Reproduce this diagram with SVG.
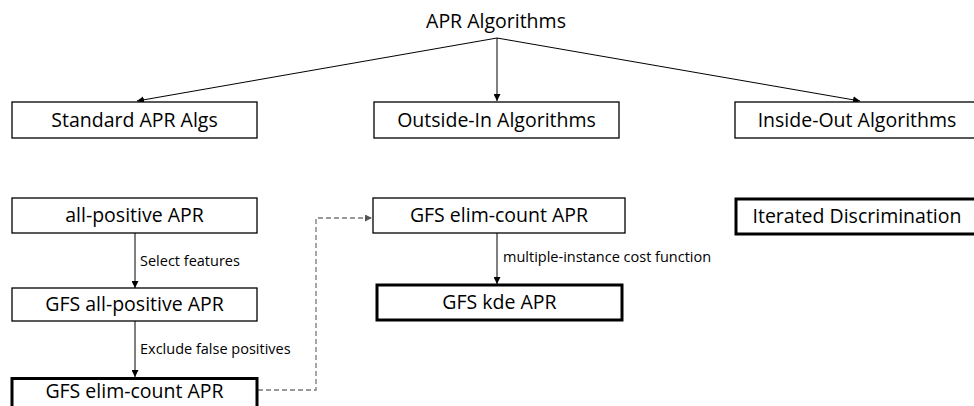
<svg xmlns="http://www.w3.org/2000/svg" width="974" height="406" viewBox="0 0 974 406">
<style>
.box{fill:#fff;stroke:#000;stroke-width:1.3}
.thick{fill:#fff;stroke:#000;stroke-width:3}
.t{font-family:"Open Sans","Noto Sans",sans-serif;font-size:19.5px;fill:#000;text-anchor:middle}
.lbl{font-family:"Open Sans","Noto Sans",sans-serif;font-size:14.5px;fill:#000}
.c{stroke:#000;stroke-width:1;fill:none}
.d{stroke:#777;stroke-width:1.3;fill:none;stroke-dasharray:5,3}
</style>
<defs>
<marker id="a" viewBox="0 0 10 10" refX="10" refY="5" markerWidth="7" markerHeight="7" orient="auto" markerUnits="userSpaceOnUse"><path d="M0,0 L10,5 L0,10 z" fill="#000"/></marker>
<marker id="ag" viewBox="0 0 10 10" refX="10" refY="5" markerWidth="7" markerHeight="7" orient="auto" markerUnits="userSpaceOnUse"><path d="M0,0 L10,5 L0,10 z" fill="#555"/></marker>
</defs>
<g id="connectors">
<line class="c" x1="497" y1="38" x2="137" y2="101" marker-end="url(#a)"/>
<line class="c" x1="497" y1="38" x2="497" y2="101" marker-end="url(#a)"/>
<line class="c" x1="497" y1="38" x2="860" y2="101" marker-end="url(#a)"/>
<line class="c" x1="135" y1="233" x2="135" y2="288" marker-end="url(#a)"/>
<line class="c" x1="135" y1="321" x2="135" y2="377" marker-end="url(#a)"/>
<line class="c" x1="497" y1="233" x2="497" y2="284" marker-end="url(#a)"/>
<polyline class="d" points="258,390 316,390 316,218 372,218" marker-end="url(#ag)"/>
<text class="lbl" x="140" y="266">Select features</text>
<text class="lbl" x="140" y="354">Exclude false positives</text>
<text class="lbl" x="503" y="262">multiple-instance cost function</text>
</g>
<g id="root"><text class="t" x="496" y="28">APR Algorithms</text></g>
<g id="standard"><rect class="box" x="12" y="102" width="245" height="36"/><text class="t" x="134.5" y="127">Standard APR Algs</text></g>
<g id="outside-in"><rect class="box" x="374" y="102" width="245" height="36"/><text class="t" x="496.5" y="127">Outside-In Algorithms</text></g>
<g id="inside-out"><rect class="box" x="735" y="102" width="245" height="36"/><text class="t" x="857" y="127">Inside-Out Algorithms</text></g>
<g id="all-positive"><rect class="box" x="12" y="198" width="245" height="35"/><text class="t" x="134.5" y="222">all-positive APR</text></g>
<g id="gfs-all-positive"><rect class="box" x="12" y="288" width="245" height="33"/><text class="t" x="134.5" y="311">GFS all-positive APR</text></g>
<g id="gfs-elim-left"><rect class="thick" x="12" y="378.5" width="245" height="35"/><text class="t" x="134.5" y="398">GFS elim-count APR</text></g>
<g id="gfs-elim-mid"><rect class="box" x="373" y="198" width="252" height="35"/><text class="t" x="499" y="222">GFS elim-count APR</text></g>
<g id="gfs-kde"><rect class="thick" x="377" y="285" width="245" height="35"/><text class="t" x="499.5" y="309">GFS kde APR</text></g>
<g id="iterated"><rect class="thick" x="736" y="199" width="245" height="35"/><text class="t" x="857" y="223">Iterated Discrimination</text></g>
</svg>
